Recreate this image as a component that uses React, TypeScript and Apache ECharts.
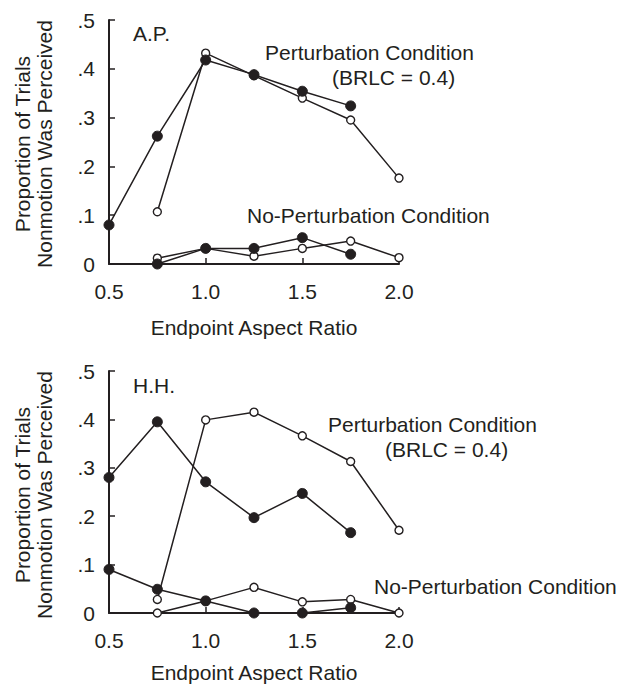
import React, { useEffect, useRef } from "react";
import * as echarts from "echarts";

const xVals = [0.5, 0.75, 1.0, 1.25, 1.5, 1.75, 2.0];
const xTickLabels = ["0.5", "1.0", "1.5", "2.0"];
const yTickLabels = ["0", ".1", ".2", ".3", ".4", ".5"];

// Subject A.P.
const apPertFilled = [0.080, 0.262, 0.418, 0.388, 0.354, 0.324, null];
const apPertOpen = [null, 0.107, 0.432, 0.386, 0.340, 0.295, 0.176];
const apNoPertFilled = [null, 0.0, 0.032, 0.032, 0.054, 0.020, null];
const apNoPertOpen = [null, 0.012, 0.032, 0.016, 0.032, 0.047, 0.013];

// Subject H.H.
const hhPertFilled = [0.280, 0.395, 0.271, 0.197, 0.247, 0.166, null];
const hhPertOpen = [null, 0.028, 0.399, 0.415, 0.366, 0.313, 0.171];
const hhNoPertFilled = [0.090, 0.049, 0.025, 0.0, 0.0, 0.011, null];
const hhNoPertOpen = [null, 0.0, 0.025, 0.053, 0.023, 0.028, 0.0];

const INK = "#231f20";
const FONT = "Liberation Sans, Arial, Helvetica, sans-serif";
const FS = 21;

function pairs(arr: (number | null)[]) {
  return xVals
    .map((x, i) => [x, arr[i]])
    .filter((p) => p[1] !== null && p[1] !== undefined);
}

function lineSeries(arr: (number | null)[], idx: number, filled: boolean) {
  return {
    type: "line",
    xAxisIndex: idx,
    yAxisIndex: idx,
    data: pairs(arr),
    symbol: "circle",
    symbolSize: filled ? 10 : 8,
    z: filled ? 3 : 2,
    lineStyle: { color: INK, width: 1.5 },
    itemStyle: filled
      ? { color: INK, borderColor: INK, borderWidth: 1 }
      : { color: "#ffffff", borderColor: INK, borderWidth: 1.4 },
    emphasis: { disabled: true },
  };
}

function xAxis(idx: number, nameGap: number) {
  return {
    gridIndex: idx,
    type: "value",
    min: 0.5,
    max: 2.0,
    interval: 0.5,
    name: "Endpoint Aspect Ratio",
    nameLocation: "middle",
    nameGap,
    nameTextStyle: { color: INK, fontSize: FS, fontFamily: FONT },
    axisLine: { show: true, lineStyle: { color: INK, width: 2 } },
    axisTick: { show: true, inside: true, length: 6, lineStyle: { color: INK, width: 1.5 } },
    axisLabel: {
      color: INK,
      fontSize: FS,
      fontFamily: FONT,
      margin: 17,
      formatter: (v: number) => xTickLabels[Math.round((v - 0.5) / 0.5)] ?? "",
    },
    splitLine: { show: false },
  };
}

function yAxis(idx: number) {
  return {
    gridIndex: idx,
    type: "value",
    min: 0,
    max: 0.5,
    interval: 0.1,
    axisLine: { show: true, lineStyle: { color: INK, width: 2 } },
    axisTick: { show: true, inside: true, length: 6, lineStyle: { color: INK, width: 1.5 } },
    axisLabel: {
      color: INK,
      fontSize: FS,
      fontFamily: FONT,
      margin: 14,
      formatter: (v: number) => yTickLabels[Math.round(v * 10)] ?? "",
    },
    splitLine: { show: false },
  };
}

function txt(text: string, left: number, cy: number, align = "left", rotation = 0) {
  return {
    type: "text",
    x: left,
    y: cy,
    rotation,
    style: {
      text,
      fill: INK,
      fontSize: FS,
      fontFamily: FONT,
      align,
      verticalAlign: "middle",
    },
  };
}

export default function App() {
  const ref = useRef<HTMLDivElement>(null);
  useEffect(() => {
    if (!ref.current) return;
    const chart = echarts.init(ref.current, null, { renderer: "svg" });
    chart.setOption({
      animation: false,
      backgroundColor: "#ffffff",
      grid: [
        { left: 109, width: 290, top: 20, height: 244 },
        { left: 109, width: 290, top: 371, height: 242 },
      ],
      xAxis: [xAxis(0, 53), xAxis(1, 49)],
      yAxis: [yAxis(0), yAxis(1)],
      series: [
        lineSeries(apPertOpen, 0, false),
        lineSeries(apNoPertOpen, 0, false),
        lineSeries(apPertFilled, 0, true),
        lineSeries(apNoPertFilled, 0, true),
        lineSeries(hhPertOpen, 1, false),
        lineSeries(hhNoPertOpen, 1, false),
        lineSeries(hhPertFilled, 1, true),
        lineSeries(hhNoPertFilled, 1, true),
      ],
      graphic: [
        txt("Proportion of Trials", 22, 144, "center", Math.PI / 2),
        txt("Nonmotion Was Perceived", 44, 144, "center", Math.PI / 2),
        txt("Proportion of Trials", 22, 495, "center", Math.PI / 2),
        txt("Nonmotion Was Perceived", 44, 495, "center", Math.PI / 2),
        txt("A.P.", 133, 33),
        txt("Perturbation Condition", 265, 52),
        txt("(BRLC = 0.4)", 332, 77),
        txt("No-Perturbation Condition", 247, 215),
        txt("H.H.", 133, 385),
        txt("Perturbation Condition", 328, 424),
        txt("(BRLC = 0.4)", 385, 449),
        txt("No-Perturbation Condition", 374, 586),
      ],
    });
    return () => chart.dispose();
  }, []);
  return (
    <div
      ref={ref}
      style={{ position: "fixed", left: 0, top: 0, width: 619, height: 685 }}
    />
  );
}
